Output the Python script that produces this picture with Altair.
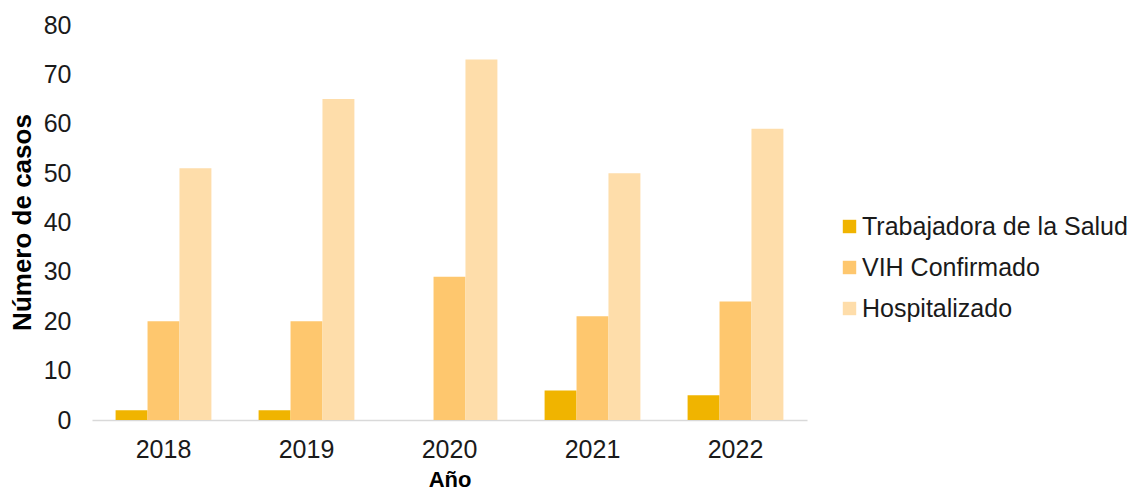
import altair as alt
import pandas as pd

years = ["2018", "2019", "2020", "2021", "2022"]
series = ["Trabajadora de la Salud", "VIH Confirmado", "Hospitalizado"]
trabajadora = [2, 2, 0, 6, 5]
vih = [20, 20, 29, 21, 24]
hospitalizado = [51, 65, 73, 50, 59]
colors = ["#F0B400", "#FEC76E", "#FEDDAA"]

rows = []
for i, y in enumerate(years):
    for s, vals in zip(series, [trabajadora, vih, hospitalizado]):
        rows.append({"Año": y, "Serie": s, "Casos": vals[i]})
df = pd.DataFrame(rows)

FONT = "Liberation Sans"
FS = 25

chart = alt.Chart(df).mark_bar().encode(
    x=alt.X("Año:N", sort=years,
            scale=alt.Scale(paddingInner=0.33, paddingOuter=0.165),
            axis=alt.Axis(title="Año", labelAngle=0, ticks=False, domainColor="#d9d9d9",
                          domainWidth=1.5, labelFontSize=FS, labelPadding=17,
                          labelColor="#1a1a1a", labelFont=FONT, titleFont=FONT,
                          titleFontSize=22, titleFontWeight="bold", titleColor="#000",
                          titleY=59, titleBaseline="middle")),
    xOffset=alt.XOffset("Serie:N", sort=series),
    y=alt.Y("Casos:Q", scale=alt.Scale(domain=[0, 80]),
            axis=alt.Axis(title="Número de casos", values=list(range(0, 81, 10)),
                          grid=False, ticks=False, domain=False, labelFontSize=FS,
                          labelPadding=21, labelColor="#1a1a1a", labelFont=FONT,
                          titleFont=FONT, titleFontSize=26, titleFontWeight="bold",
                          titleColor="#000", titleX=-70, titleY=197, titleAngle=-90,
                          titleBaseline="middle", titleAlign="center")),
    color=alt.Color("Serie:N", sort=series,
                    scale=alt.Scale(domain=series, range=colors),
                    legend=alt.Legend(title=None, orient="none", legendX=745, legendY=189,
                                      symbolType="square", symbolSize=180,
                                      symbolStrokeWidth=0, labelFontSize=FS,
                                      labelFont=FONT, labelColor="#1a1a1a", labelLimit=0,
                                      rowPadding=15, labelOffset=0)),
).properties(
    width=715, height=395,
    autosize=alt.AutoSizeParams(type="none"),
    padding={"left": 84, "top": 17, "right": 320, "bottom": 70},
).configure(background="white", view=alt.ViewConfig(stroke=None, strokeWidth=0))

chart.save("out.html", embed_options={"renderer": "svg", "actions": False})
